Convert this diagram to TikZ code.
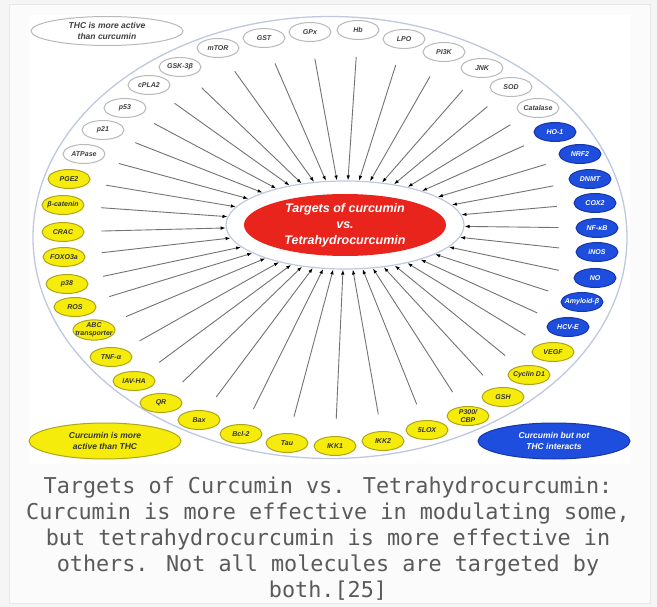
\documentclass[tikz,border=0pt]{standalone}
\usepackage{fontspec}
\setmainfont{Liberation Sans}
\newfontfamily\capfont{DejaVu Sans Mono}
\usetikzlibrary{shapes.geometric,arrows.meta}

\definecolor{ylw}{RGB}{246,236,12}
\definecolor{ylwline}{RGB}{176,164,24}
\definecolor{blu}{RGB}{30,78,222}
\definecolor{bluline}{RGB}{22,54,170}
\definecolor{redc}{RGB}{232,36,28}
\definecolor{ring}{RGB}{190,200,224}
\definecolor{capgray}{RGB}{90,90,90}

\tikzset{
  tnode/.style={ellipse,draw,line width=1pt,minimum width=42pt,minimum height=19pt,inner xsep=-5pt,inner ysep=0pt,align=center,font=\bfseries\itshape\fontsize{7}{8}\selectfont},
  wnode/.style={tnode,fill=white,draw=gray!55,text=black!75},
  ynode/.style={tnode,fill=ylw,draw=ylwline,text=black!80},
  bnode/.style={tnode,fill=blu,draw=bluline,text=white},
  legend/.style={ellipse,line width=1pt,minimum width=152pt,minimum height=36pt,inner sep=0pt,align=center,font=\bfseries\itshape\fontsize{8.5}{10.5}\selectfont},
  arr/.style={draw=gray!90!black,line width=0.9pt,shorten <=17pt,-{Latex[length=5pt,width=3.5pt,color=black]}}
}

\begin{document}
\begin{tikzpicture}[x=1pt,y=-1pt]
\useasboundingbox (0,0) rectangle (657,607);
\fill[gray!8] (0,0) rectangle (657,607);
\filldraw[fill=gray!3,draw=gray!18] (9,4) rectangle (650,603);
\fill[white] (29,15) rectangle (630,464);
\draw[draw=ring,line width=1.3pt] (330,237.5) ellipse [x radius=297pt,y radius=221pt];

% centre
\node[ellipse,draw=ring,line width=1.2pt,fill=white,minimum width=238pt,minimum height=88pt] (halo) at (345,225) {};
\node[ellipse,fill=redc,text=white,minimum width=202pt,minimum height=62pt,inner sep=0pt,align=center,font=\bfseries\itshape\fontsize{12.5}{16}\selectfont] (tgt) at (345,225) {Targets of curcumin\\vs.\\Tetrahydrocurcumin};

% legend
\node[legend,fill=white,draw=gray!55,minimum height=29pt,text=black!75] (thc) at (107,31) {THC is more active\\than curcumin};
\node[legend,fill=ylw,draw=ylwline,text=black!80] (cur) at (105,441) {Curcumin is more\\active than THC};
\node[legend,fill=blu,draw=bluline,text=white] (only) at (554,441) {Curcumin but not\\THC interacts};

% THC more active
\node[wnode] (atp) at (84,154) {ATPase};
\node[wnode] (p21) at (103,130) {p21};
\node[wnode] (p53) at (125,108) {p53};
\node[wnode] (cpla) at (149,85) {cPLA2};
\node[wnode] (gsk) at (180,67) {GSK-3β};
\node[wnode] (mtor) at (218,48) {mTOR};
\node[wnode] (gst) at (264,38) {GST};
\node[wnode] (gpx) at (310,32) {GPx};
\node[wnode] (hb) at (358,30) {Hb};
\node[wnode] (lpo) at (404,39) {LPO};
\node[wnode] (pik) at (444,52) {PI3K};
\node[wnode] (jnk) at (482,68) {JNK};
\node[wnode] (sod) at (511,87) {SOD};
\node[wnode] (cat) at (538,108) {Catalase};

% curcumin only
\node[bnode] (ho) at (555,132) {HO-1};
\node[bnode] (nrf) at (580,154) {NRF2};
\node[bnode] (dnmt) at (590,179) {DNMT};
\node[bnode] (cox) at (595,203) {COX2};
\node[bnode] (nfkb) at (597,228) {NF-κB};
\node[bnode] (inos) at (597,252) {iNOS};
\node[bnode] (no) at (595,278) {NO};
\node[bnode] (amy) at (582,302) {Amyloid-β};
\node[bnode] (hcv) at (568,327) {HCV-E};

% curcumin more active
\node[ynode] (vegf) at (553,352) {VEGF};
\node[ynode] (cyc) at (529,375) {Cyclin D1};
\node[ynode] (gsh) at (503,397) {GSH};
\node[ynode] (p300) at (468,416) {P300/\\CBP};
\node[ynode] (lox) at (427,430) {5LOX};
\node[ynode] (ikkb) at (383,441) {IKK2};
\node[ynode] (ikka) at (335,446) {IKK1};
\node[ynode] (tau) at (287,443) {Tau};
\node[ynode] (bcl) at (241,434) {Bcl-2};
\node[ynode] (bax) at (199,420) {Bax};
\node[ynode] (qr) at (161,403) {QR};
\node[ynode] (iav) at (134,381) {IAV-HA};
\node[ynode] (tnf) at (111,357) {TNF-α};
\node[ynode] (abc) at (94,330) {ABC\\transporter};
\node[ynode] (ros) at (75,307) {ROS};
\node[ynode] (p38) at (67,284) {p38};
\node[ynode] (foxo) at (64,257) {FOXO3a};
\node[ynode] (crac) at (63,232) {CRAC};
\node[ynode] (bcat) at (63,205) {β-catenin};
\node[ynode] (pge) at (69,179) {PGE2};

\path[arr] (atp) edge (halo);
\path[arr] (p21) edge (halo);
\path[arr] (p53) edge (halo);
\path[arr] (cpla) edge (halo);
\path[arr] (gsk) edge (halo);
\path[arr] (mtor) edge (halo);
\path[arr] (gst) edge (halo);
\path[arr] (gpx) edge (halo);
\path[arr] (hb) edge (halo);
\path[arr] (lpo) edge (halo);
\path[arr] (pik) edge (halo);
\path[arr] (jnk) edge (halo);
\path[arr] (sod) edge (halo);
\path[arr] (cat) edge (halo);
\path[arr] (ho) edge (halo);
\path[arr] (nrf) edge (halo);
\path[arr] (dnmt) edge (halo);
\path[arr] (cox) edge (halo);
\path[arr] (nfkb) edge (halo);
\path[arr] (inos) edge (halo);
\path[arr] (no) edge (halo);
\path[arr] (amy) edge (halo);
\path[arr] (hcv) edge (halo);
\path[arr] (vegf) edge (halo);
\path[arr] (cyc) edge (halo);
\path[arr] (gsh) edge (halo);
\path[arr] (p300) edge (halo);
\path[arr] (lox) edge (halo);
\path[arr] (ikkb) edge (halo);
\path[arr] (ikka) edge (halo);
\path[arr] (tau) edge (halo);
\path[arr] (bcl) edge (halo);
\path[arr] (bax) edge (halo);
\path[arr] (qr) edge (halo);
\path[arr] (iav) edge (halo);
\path[arr] (tnf) edge (halo);
\path[arr] (abc) edge (halo);
\path[arr] (ros) edge (halo);
\path[arr] (p38) edge (halo);
\path[arr] (foxo) edge (halo);
\path[arr] (crac) edge (halo);
\path[arr] (bcat) edge (halo);
\path[arr] (pge) edge (halo);

% caption
\node[font=\capfont\fontsize{21.8}{26}\selectfont,text=capgray,align=center] (cap) at (328,539) {Targets of Curcumin vs. Tetrahydrocurcumin:\\Curcumin is more effective in modulating some,\\but tetrahydrocurcumin is more effective in\\others. Not all molecules are targeted by\\both.[25]};
\end{tikzpicture}
\end{document}
